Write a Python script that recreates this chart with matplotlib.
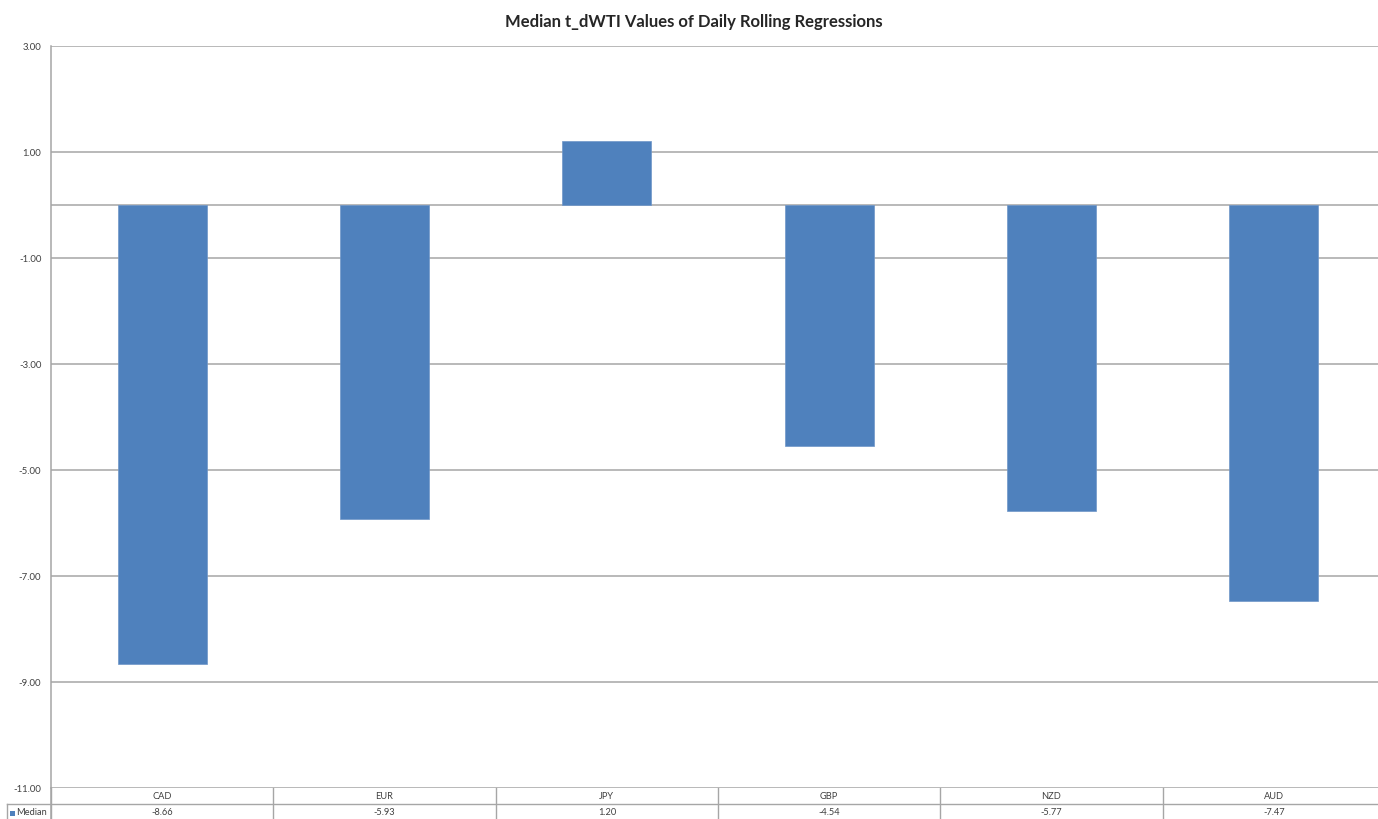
import matplotlib
matplotlib.use("Agg")
import matplotlib.pyplot as plt
from matplotlib.transforms import blended_transform_factory
from matplotlib.lines import Line2D
from matplotlib.patches import Rectangle

# Data
currencies = ["CAD", "EUR", "JPY", "GBP", "NZD", "AUD"]
median_t = [-8.66, -5.93, 1.20, -4.54, -5.77, -7.47]
series_name = "Median"
title = "Median t_dWTI Values of Daily Rolling Regressions"
y_ticks = [3, 1, -1, -3, -5, -7, -9, -11]

W, H = 1378, 819
BAR_COLOR = "#4f81bd"
GRID = "#a6a6a6"
TXT = "#404040"
FONT = "Lato"

fig = plt.figure(figsize=(W / 100, H / 100), dpi=100)
fig.patch.set_facecolor("white")

def fx(px):
    return px / W

def fy(py):
    return 1 - py / H

# plot area in pixels: left 51, top 46, bottom 788, runs past right edge
left, top, bottom, right = 51, 46, 788, 1385
ax = fig.add_axes([fx(left), fy(bottom), fx(right - left), (bottom - top) / H])

x = list(range(len(currencies)))
ax.bar(x, median_t, width=0.4, color=BAR_COLOR, edgecolor="#6f96c8",
       linewidth=0.5, zorder=3)

ax.set_xlim(-0.5, len(currencies) - 0.5)
ax.set_ylim(min(y_ticks), max(y_ticks))
ax.set_yticks(y_ticks)
ax.set_yticklabels([f"{v:.2f}" for v in y_ticks], fontsize=6.9,
                   color=TXT, family=FONT)
ax.tick_params(axis="y", length=0, pad=7)
ax.set_xticks([])
ax.grid(axis="y", color=GRID, linewidth=1.1, zorder=0)
ax.axhline(0, color=GRID, linewidth=1.1, zorder=1)
for s in ["top", "right", "bottom"]:
    ax.spines[s].set_visible(False)
ax.spines["left"].set_color(GRID)
ax.spines["left"].set_linewidth(1.1)

fig.text(fx(693.5), fy(22), title, ha="center", va="center",
         fontsize=12, fontweight="bold", color="#262626", family=FONT)

# Data table under the axis
tr = blended_transform_factory(ax.transData, fig.transFigure)
row1_top, row2_top, row2_bot = 788, 804, 822
lw = 1.0
# left spine continued through the table
fig.add_artist(Line2D([fx(left), fx(left)], [fy(bottom), fy(row2_bot)],
                      color=GRID, linewidth=1.1))
# horizontal row divider, including the row-header cell
fig.add_artist(Line2D([fx(7), fx(right)], [fy(row2_top), fy(row2_top)],
                      color=GRID, linewidth=lw))
fig.add_artist(Line2D([fx(7), fx(7)], [fy(row2_top), fy(row2_bot)],
                      color=GRID, linewidth=lw))
for i in range(len(currencies) + 1):
    xb = i - 0.5
    fig.add_artist(Line2D([xb, xb], [fy(row1_top), fy(row2_bot)],
                          color=GRID, linewidth=lw, transform=tr))
for i, (c, v) in enumerate(zip(currencies, median_t)):
    fig.text(i, fy(796.5), c, transform=tr, ha="center", va="center",
             fontsize=6.7, color=TXT, family=FONT)
    fig.text(i, fy(812.5), f"{v:.2f}", transform=tr, ha="center", va="center",
             fontsize=6.7, color=TXT, family=FONT)

# row header with legend key
fig.add_artist(Rectangle((fx(9.5), fy(815.5)), fx(5), 5 / H,
                         facecolor=BAR_COLOR, edgecolor="none"))
fig.text(fx(16), fy(812.5), series_name, ha="left", va="center",
         fontsize=6.7, color=TXT, family=FONT)

fig.savefig("out.png", dpi=100, facecolor="white")
